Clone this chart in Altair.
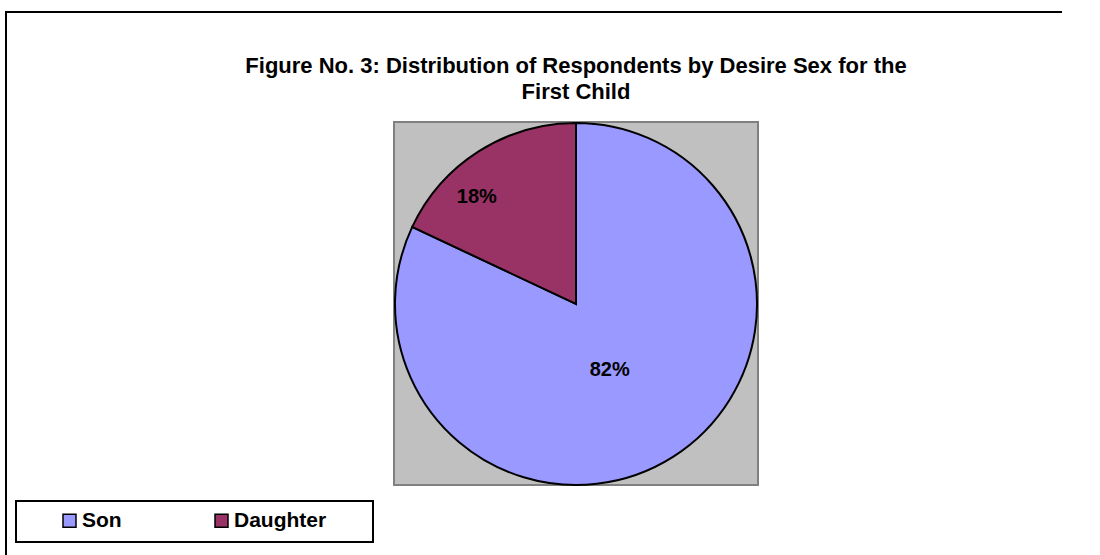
import altair as alt
import pandas as pd

# ---- data ----
categories = ["Son", "Daughter"]
shares = [82, 18]
labels = ["82%", "18%"]
order_idx = [0, 1]
colors = ["#9999FF", "#993366"]
title_lines = ["Figure No. 3: Distribution of Respondents by Desire Sex for the", "First Child"]

df = pd.DataFrame({"category": categories, "share": shares, "label": labels, "idx": order_idx})
one = pd.DataFrame({"k": [0]})

FONT = "Liberation Sans"
CX, CY, R = 576, 304, 181
W, H = 1100, 555

frame_top = alt.Chart(one).mark_rect(fill="black", strokeWidth=0).encode(
    x=alt.value(5), x2=alt.value(1062), y=alt.value(11), y2=alt.value(13)
)
frame_left = alt.Chart(one).mark_rect(fill="black", strokeWidth=0).encode(
    x=alt.value(5), x2=alt.value(7), y=alt.value(11), y2=alt.value(H)
)

plot_bg = alt.Chart(one).mark_rect(fill="#C0C0C0", stroke="#808080", strokeWidth=2).encode(
    x=alt.value(394), x2=alt.value(758), y=alt.value(122), y2=alt.value(485)
)

legend_box = alt.Chart(one).mark_rect(fill="white", stroke="black", strokeWidth=2).encode(
    x=alt.value(16), x2=alt.value(373), y=alt.value(501), y2=alt.value(542)
)

title = alt.Chart(one).mark_text(
    font=FONT, fontSize=22, fontWeight="bold", color="black",
    align="center", baseline="top", lineHeight=26
).encode(x=alt.value(576), y=alt.value(56), text=alt.value(title_lines))

color = alt.Color(
    "category:N",
    scale=alt.Scale(domain=categories, range=colors),
    legend=alt.Legend(
        title=None, orient="none", legendX=59, legendY=510, direction="horizontal",
        columns=2, columnPadding=89, symbolType="square", symbolSize=169,
        symbolStrokeColor="black", symbolStrokeWidth=1.5, labelOffset=2,
        labelFont=FONT, labelFontSize=21, labelFontWeight="bold", labelColor="black",
        padding=0,
    ),
)

pie = alt.Chart(df).mark_arc(radius=R, stroke="black", strokeWidth=2).encode(
    theta=alt.Theta("share:Q", stack=True),
    color=color,
    order=alt.Order("idx:Q"),
    x=alt.value(CX), y=alt.value(CY),
)


def label_layer(cat, radius, dx, dy):
    return alt.Chart(df).transform_stack(
        stack="share", groupby=[], as_=["s0", "s1"], sort=[alt.SortField("idx", order="ascending")]
    ).transform_calculate(
        mid="(datum.s0 + datum.s1) / 2"
    ).transform_filter(
        alt.datum.category == cat
    ).mark_text(
        radius=radius, dx=dx, dy=dy, font=FONT, fontSize=20, fontWeight="bold", color="black"
    ).encode(
        theta=alt.Theta("mid:Q", stack=None),
        text="label:N", x=alt.value(CX), y=alt.value(CY),
    )


txt_son = label_layer("Son", 74, -6, 4)
txt_dau = label_layer("Daughter", 146, -21, 16)

chart = alt.layer(frame_top, frame_left, plot_bg, legend_box, title, pie, txt_son, txt_dau).properties(
    width=W, height=H, padding=0, autosize="none", background="white"
).configure_view(stroke=None)

chart.save("out.html", embed_options={"renderer": "svg", "actions": False})
